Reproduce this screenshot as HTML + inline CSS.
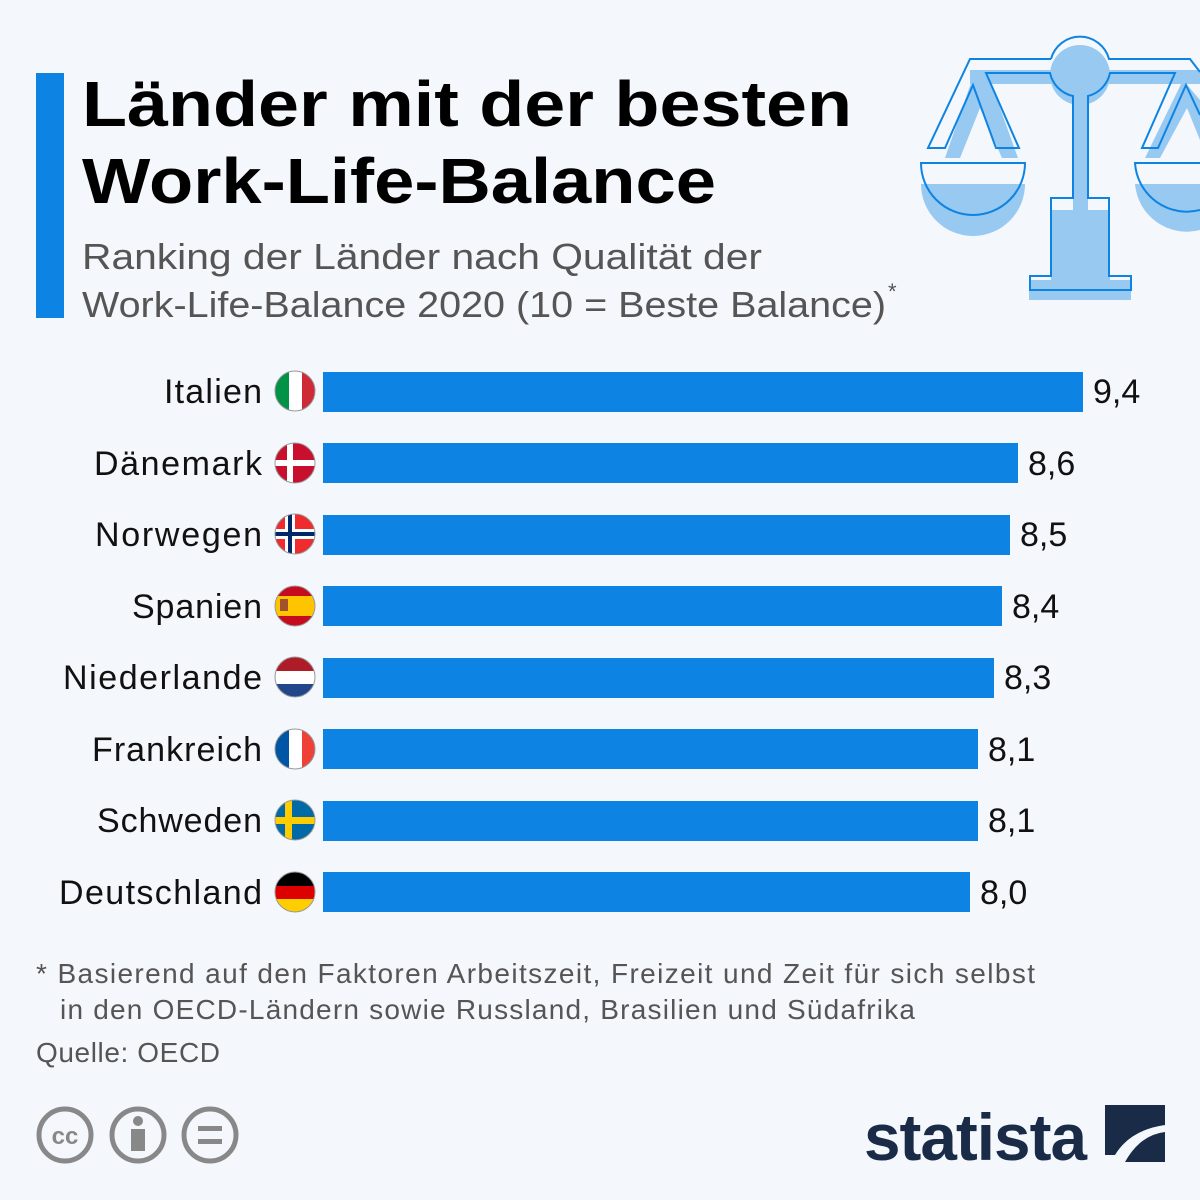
<!DOCTYPE html>
<html><head><meta charset="utf-8"><style>
body{margin:0;background:#f4f7fb;}
svg{display:block}
text{font-family:"Liberation Sans","DejaVu Sans",sans-serif}
</style></head><body>
<svg width="1200" height="1200" viewBox="0 0 1200 1200" xmlns="http://www.w3.org/2000/svg">
<rect width="1200" height="1200" fill="#f4f7fb"/>
<rect x="36" y="73" width="28" height="245" fill="#0d84e4"/>
<text x="82" y="126" font-size="64" font-weight="bold" fill="#000" textLength="770" lengthAdjust="spacingAndGlyphs">Länder mit der besten</text>
<text x="82" y="203" font-size="64" font-weight="bold" fill="#000" textLength="634" lengthAdjust="spacingAndGlyphs">Work-Life-Balance</text>
<text x="82" y="269" font-size="36" fill="#555" textLength="680" lengthAdjust="spacingAndGlyphs">Ranking der Länder nach Qualität der</text>
<text x="82" y="317" font-size="36" fill="#555" textLength="804" lengthAdjust="spacingAndGlyphs">Work-Life-Balance 2020 (10 = Beste Balance)</text>
<text x="888" y="299" font-size="22" fill="#555">*</text>

<!-- scale icon -->
<g>
<g fill="#98c9f0">
<rect x="970" y="70" width="240" height="14"/>
<circle cx="1080" cy="75" r="30"/>
<rect x="1073" y="95" width="15" height="115"/>
<rect x="1051" y="210" width="59" height="75"/>
<rect x="1029" y="280" width="102" height="20"/>
<path d="M972 80 L945 158 L960 158 L980 108 L1002 158 L1018 158 L990 80Z"/>
<path d="M921 174 L1025 174 A52 52 0 0 1 921 174Z" transform="translate(0,10)"/>
<path d="M1183 80 L1145 158 L1160 158 L1187 108 L1200 140 L1200 100Z"/>
<path d="M1135 174 L1200 174 L1200 220 A52 52 0 0 1 1135 174Z" transform="translate(0,10)"/>
</g>
<g fill="none" stroke="#0d84e4" stroke-width="2">
<path d="M1051 59 A30 30 0 0 1 1109 59 L1190 59 L1200 72"/>
<path d="M1051 59 L970 59 L928 148 L945 148 L973 85 L996 148 L1019 148 L986 73 L1050 73 A30 30 0 0 0 1073 96 L1073 198 L1051 198 L1051 276 L1030 276 L1030 290 L1131 290 L1131 276 L1109 276 L1109 198 L1088 198 L1088 96 A30 30 0 0 0 1110 73 L1175 73 L1142 148 L1158 148 L1186 85 L1200 115"/>
<path d="M921 163 L1025 163 A52 52 0 0 1 921 163Z"/>
<path d="M1200 163 L1135 163 A52 52 0 0 0 1200 210"/>
</g>
</g>

<g font-size="34" fill="#111">
<g text-anchor="end" lengthAdjust="spacingAndGlyphs">
<text x="262" y="403" textLength="98">Italien</text>
<text x="262" y="475" textLength="168">Dänemark</text>
<text x="262" y="546" textLength="167">Norwegen</text>
<text x="262" y="618" textLength="130">Spanien</text>
<text x="262" y="689" textLength="199">Niederlande</text>
<text x="262" y="761" textLength="170">Frankreich</text>
<text x="262" y="832" textLength="165">Schweden</text>
<text x="262" y="904" textLength="203">Deutschland</text>
</g>
<g fill="#0d84e4">
<rect x="323" y="372" width="760" height="40"/>
<rect x="323" y="443" width="695" height="40"/>
<rect x="323" y="515" width="687" height="40"/>
<rect x="323" y="586" width="679" height="40"/>
<rect x="323" y="658" width="671" height="40"/>
<rect x="323" y="729" width="655" height="40"/>
<rect x="323" y="801" width="655" height="40"/>
<rect x="323" y="872" width="647" height="40"/>
</g>
<text x="1093" y="403">9,4</text>
<text x="1028" y="475">8,6</text>
<text x="1020" y="546">8,5</text>
<text x="1012" y="618">8,4</text>
<text x="1004" y="689">8,3</text>
<text x="988" y="761">8,1</text>
<text x="988" y="832">8,1</text>
<text x="980" y="904">8,0</text>
</g>

<defs>
<clipPath id="c1"><circle cx="295" cy="391" r="20"/></clipPath>
<clipPath id="c2"><circle cx="295" cy="463" r="20"/></clipPath>
<clipPath id="c3"><circle cx="295" cy="534" r="20"/></clipPath>
<clipPath id="c4"><circle cx="295" cy="606" r="20"/></clipPath>
<clipPath id="c5"><circle cx="295" cy="677" r="20"/></clipPath>
<clipPath id="c6"><circle cx="295" cy="749" r="20"/></clipPath>
<clipPath id="c7"><circle cx="295" cy="820" r="20"/></clipPath>
<clipPath id="c8"><circle cx="295" cy="892" r="20"/></clipPath>
</defs>
<g clip-path="url(#c1)"><rect x="275" y="371" width="14" height="40" fill="#009246"/><rect x="289" y="371" width="13" height="40" fill="#fff"/><rect x="302" y="371" width="14" height="40" fill="#ce2b37"/></g>
<g clip-path="url(#c2)"><rect x="275" y="443" width="40" height="40" fill="#c8102e"/><rect x="287" y="443" width="6" height="40" fill="#fff"/><rect x="275" y="460" width="40" height="6" fill="#fff"/></g>
<g clip-path="url(#c3)"><rect x="275" y="514" width="40" height="40" fill="#ef2b2d"/><rect x="285" y="514" width="10" height="40" fill="#fff"/><rect x="275" y="529" width="40" height="10" fill="#fff"/><rect x="288" y="514" width="4" height="40" fill="#002868"/><rect x="275" y="532" width="40" height="4" fill="#002868"/></g>
<g clip-path="url(#c4)"><rect x="275" y="586" width="40" height="40" fill="#c60b1e"/><rect x="275" y="596" width="40" height="20" fill="#ffc400"/><rect x="280" y="599" width="8" height="12" fill="#a0522d"/></g>
<g clip-path="url(#c5)"><rect x="275" y="657" width="40" height="14" fill="#ae1c28"/><rect x="275" y="671" width="40" height="13" fill="#fff"/><rect x="275" y="684" width="40" height="14" fill="#21468b"/></g>
<g clip-path="url(#c6)"><rect x="275" y="729" width="14" height="40" fill="#0055a4"/><rect x="289" y="729" width="13" height="40" fill="#fff"/><rect x="302" y="729" width="14" height="40" fill="#ef4135"/></g>
<g clip-path="url(#c7)"><rect x="275" y="800" width="40" height="40" fill="#006aa7"/><rect x="285" y="800" width="7" height="40" fill="#fecc00"/><rect x="275" y="817" width="40" height="7" fill="#fecc00"/></g>
<g clip-path="url(#c8)"><rect x="275" y="872" width="40" height="14" fill="#000"/><rect x="275" y="886" width="40" height="13" fill="#dd0000"/><rect x="275" y="899" width="40" height="14" fill="#ffce00"/></g>
<g fill="none" stroke="#999" stroke-width="1">
<circle cx="295" cy="391" r="20"/><circle cx="295" cy="463" r="20"/><circle cx="295" cy="534" r="20"/><circle cx="295" cy="606" r="20"/><circle cx="295" cy="677" r="20"/><circle cx="295" cy="749" r="20"/><circle cx="295" cy="820" r="20"/><circle cx="295" cy="892" r="20"/>
</g>

<g font-size="28" fill="#555" lengthAdjust="spacingAndGlyphs">
<text x="36" y="983" textLength="999">* Basierend auf den Faktoren Arbeitszeit, Freizeit und Zeit für sich selbst</text>
<text x="60" y="1019" textLength="855">in den OECD-Ländern sowie Russland, Brasilien und Südafrika</text>
<text x="36" y="1062" textLength="184">Quelle: OECD</text>
</g>

<g fill="none" stroke="#888" stroke-width="5">
<circle cx="65" cy="1135" r="26"/><circle cx="138" cy="1135" r="26"/><circle cx="210" cy="1135" r="26"/>
</g>
<text x="65" y="1144" font-size="24" font-weight="bold" fill="#888" text-anchor="middle">cc</text>
<circle cx="138" cy="1121" r="5" fill="#888"/>
<rect x="131" y="1129" width="14" height="22" fill="#888"/>
<rect x="198" y="1126" width="24" height="5" fill="#888"/>
<rect x="198" y="1139" width="24" height="5" fill="#888"/>

<text x="864" y="1160" font-size="66" font-weight="bold" fill="#1a2b48" letter-spacing="-1" textLength="222" lengthAdjust="spacingAndGlyphs">statista</text>
<path d="M1105 1105 L1165 1105 L1165 1125 Q1130 1130 1115 1155 L1105 1155Z" fill="#1a2b48"/>
<path d="M1125 1162 Q1140 1135 1165 1132 L1165 1162Z" fill="#1a2b48"/>
</svg>
</body></html>
